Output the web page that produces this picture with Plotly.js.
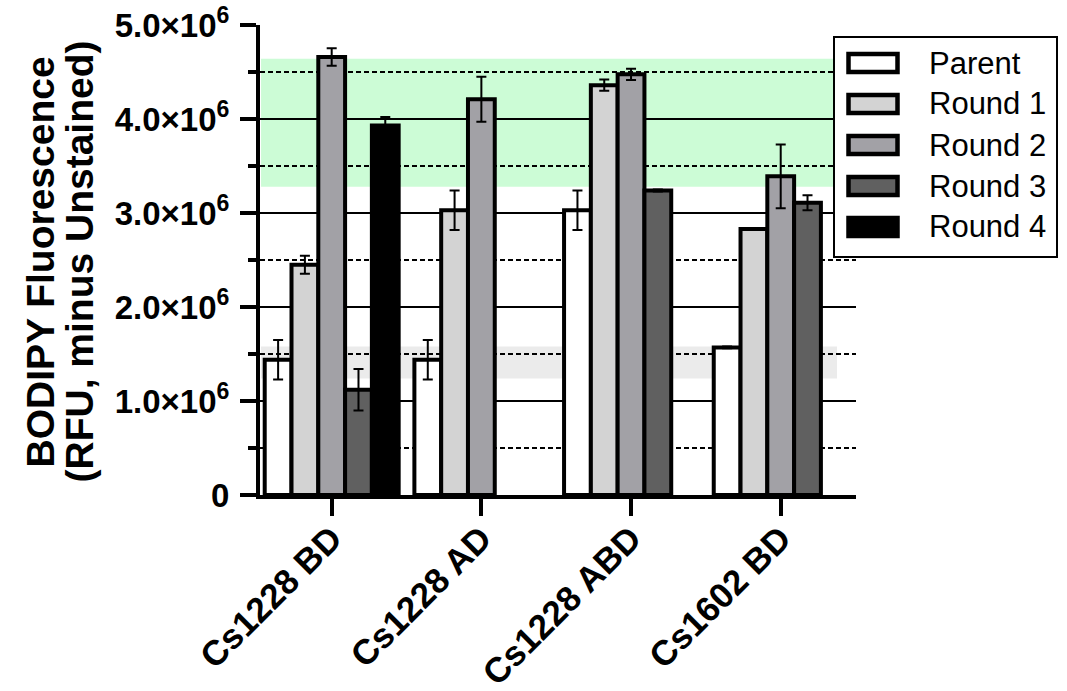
<!DOCTYPE html>
<html>
<head>
<meta charset="utf-8">
<script src="https://cdn.plot.ly/plotly-3.0.1.min.js"></script>
<style>
  html, body { margin: 0; padding: 0; background: #ffffff; }
  #chart { width: 1067px; height: 691px; }
</style>
</head>
<body>
<div id="chart"></div>
<script>
// ---- data ----
const categories = ['Cs1228 BD', 'Cs1228 AD', 'Cs1228 ABD', 'Cs1602 BD'];
const seriesNames = ['Parent', 'Round 1', 'Round 2', 'Round 3', 'Round 4'];

const parentVals = [1.44e6, 1.44e6, 3.03e6, 1.57e6];
const parentErr  = [0.21e6, 0.21e6, 0.21e6, 0.01e6];
const round1Vals = [2.45e6, 3.03e6, 4.36e6, 2.83e6];
const round1Err  = [0.095e6, 0.21e6, 0.06e6, 0.01e6];
const round2Vals = [4.66e6, 4.21e6, 4.475e6, 3.39e6];
const round2Err  = [0.093e6, 0.24e6, 0.06e6, 0.34e6];
const round3Vals = [1.12e6, null, 3.24e6, 3.11e6];
const round3Err  = [0.22e6, null, 0.01e6, 0.08e6];
const round4Vals = [3.93e6, null, null, null];
const round4Err  = [0.09e6, null, null, null];

const greenBand = [3.28e6, 4.64e6];
const grayBand  = [1.24e6, 1.58e6];

const yTickVals = [0, 1e6, 2e6, 3e6, 4e6, 5e6];
const yTickText = ['0', '1.0×10<sup>6</sup>', '2.0×10<sup>6</sup>', '3.0×10<sup>6</sup>', '4.0×10<sup>6</sup>', '5.0×10<sup>6</sup>'];

const yTitleLines = ['BODIPY Fluorescence', '(RFU, minus Unstained)'];

// ---- styling ----
const seriesColors = ['#ffffff', '#d3d3d3', '#a2a1a6', '#606060', '#000000'];
const FONT = 'Liberation Sans, Arial, sans-serif';

const allVals = [parentVals, round1Vals, round2Vals, round3Vals, round4Vals];
const allErr = [parentErr, round1Err, round2Err, round3Err, round4Err];

const traces = seriesNames.map((name, i) => ({
  type: 'bar',
  name: name,
  x: categories,
  y: allVals[i],
  marker: { color: seriesColors[i], line: { color: '#000000', width: 4 } },
  error_y: { type: 'data', array: allErr[i], visible: true, color: '#000000', thickness: 2, width: 5 },
  hoverinfo: 'x+y+name'
}));

// plot area in pixels: x 260..856, y 25..495
const L = 260, R = 856, T = 25, B = 495;
const px = x => (x - L) / (R - L);
const py = y => (B - y) / (B - T);

const shapes = [
  { type: 'rect', xref: 'x', yref: 'y', x0: -0.472, x1: 3.376, y0: greenBand[0], y1: greenBand[1],
    fillcolor: '#ccfcd6', line: { width: 0 }, layer: 'below' },
  { type: 'rect', xref: 'x', yref: 'y', x0: -0.472, x1: 3.376, y0: grayBand[0], y1: grayBand[1],
    fillcolor: '#ebebeb', line: { width: 0 }, layer: 'below' },
  // legend box
  { type: 'rect', xref: 'paper', yref: 'paper', x0: px(834), x1: px(1057), y0: py(257), y1: py(37),
    fillcolor: '#ffffff', line: { color: '#000000', width: 2 }, layer: 'above' }
];
const annotations = [];
seriesNames.forEach((name, i) => {
  const cy = 63 + 41 * i;
  shapes.push({ type: 'rect', xref: 'paper', yref: 'paper', x0: px(848.5), x1: px(897.5), y0: py(cy + 9), y1: py(cy - 9),
    fillcolor: seriesColors[i], line: { color: '#000000', width: 4.5 }, layer: 'above' });
  annotations.push({ xref: 'paper', yref: 'paper', x: px(927), y: py(cy), xanchor: 'left', yanchor: 'middle',
    text: name, showarrow: false, font: { family: FONT, size: 31, color: '#000000' } });
});
// y-axis title (two lines, tight spacing as in the reference)
const titleX = [39.5, 78.5];
yTitleLines.forEach((line, i) => {
  annotations.push({ xref: 'paper', yref: 'paper', x: px(titleX[i]), y: py(262), xanchor: 'center', yanchor: 'middle',
    textangle: -90, text: line, showarrow: false,
    font: { family: FONT, size: 39, weight: 'bold', color: '#000000' } });
});

const layout = {
  width: 1067, height: 691,
  margin: { l: L, r: 1067 - R, t: T, b: 691 - B, pad: 0 },
  paper_bgcolor: '#ffffff', plot_bgcolor: '#ffffff',
  barmode: 'group', bargap: 0.105, bargroupgap: 0,
  showlegend: false,
  font: { family: FONT, color: '#000000' },
  xaxis: {
    type: 'category',
    range: [-0.479, 3.503],
    showline: true, linecolor: '#000000', linewidth: 4,
    ticks: 'outside', ticklen: 17, tickwidth: 4, tickcolor: '#000000',
    tickangle: -45,
    ticklabelstandoff: -12,
    tickfont: { family: FONT, size: 35, weight: 'bold', color: '#000000' },
    showgrid: false, zeroline: false, fixedrange: true
  },
  yaxis: {
    range: [0, 5e6],
    tickmode: 'array', tickvals: yTickVals, ticktext: yTickText,
    showline: true, linecolor: '#000000', linewidth: 4,
    ticks: 'outside', ticklen: 16, tickwidth: 4, tickcolor: '#000000',
    ticklabelstandoff: 4,
    tickfont: { family: FONT, size: 33, weight: 'bold', color: '#000000' },
    showgrid: true, gridcolor: '#000000', gridwidth: 2,
    zeroline: false,
    minor: { tickmode: 'linear', tick0: 0, dtick: 5e5, ticks: 'outside', ticklen: 8, tickwidth: 4, tickcolor: '#000000',
             showgrid: true, gridcolor: '#000000', gridwidth: 2, griddash: '5px,3px' },
    fixedrange: true
  },
  shapes: shapes,
  annotations: annotations
};

Plotly.newPlot('chart', traces, layout, { displayModeBar: false, staticPlot: true });
</script>
</body>
</html>
